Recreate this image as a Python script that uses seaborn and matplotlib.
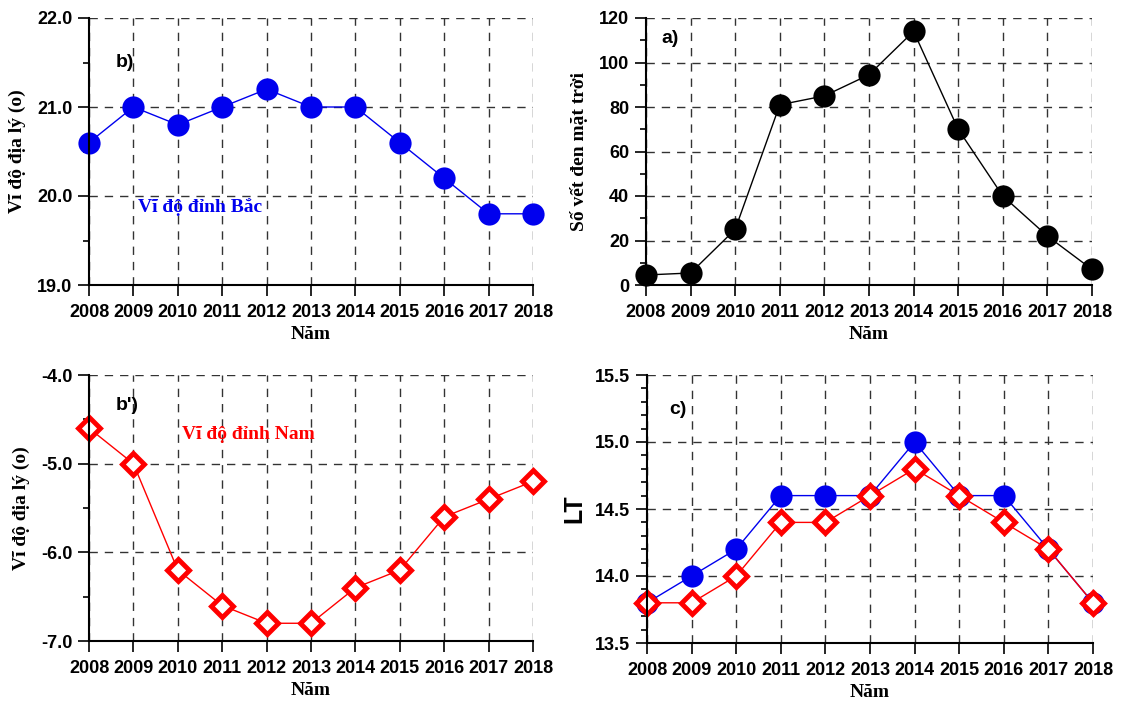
import numpy as np
import pandas as pd
import seaborn as sns
import matplotlib.pyplot as plt
from matplotlib.ticker import MultipleLocator, FormatStrFormatter

years = list(range(2008, 2019))
lat_north = [20.6, 21.0, 20.8, 21.0, 21.2, 21.0, 21.0, 20.6, 20.2, 19.8, 19.8]
sunspots = [4.5, 5.4, 25, 81, 85, 94.5, 114, 70, 40, 22, 7]
lat_south = [-4.6, -5.0, -6.2, -6.6, -6.8, -6.8, -6.4, -6.2, -5.6, -5.4, -5.2]
lt_north = [13.8, 14.0, 14.2, 14.6, 14.6, 14.6, 15.0, 14.6, 14.6, 14.2, 13.8]
lt_south = [13.8, 13.8, 14.0, 14.4, 14.4, 14.6, 14.8, 14.6, 14.4, 14.2, 13.8]

df = pd.DataFrame({'year': years, 'north': lat_north, 'spots': sunspots,
                   'south': lat_south, 'lt_n': lt_north, 'lt_s': lt_south})

sns.set_style('white')
plt.rcParams['font.family'] = ['Liberation Sans', 'DejaVu Sans']
plt.rcParams['text.color'] = 'black'

fig = plt.figure(figsize=(11.21, 7.05), dpi=100)
W, H = 1121, 705

def make_ax(l, r, t, b):
    return fig.add_axes([l / W, 1 - b / H, (r - l) / W, (b - t) / H])

ax_b = make_ax(89, 533, 18, 285)
ax_a = make_ax(646, 1092, 18, 285)
ax_bp = make_ax(89, 533, 375, 641)
ax_c = make_ax(647, 1093, 375, 643)

serif = {'family': 'Liberation Serif', 'weight': 'bold', 'size': 14}
grid_kw = dict(color='#333333', linestyle=(0, (6, 5)), linewidth=1.0)

def style(ax, ylo, yhi, major, minor, fmt, ylabel, yfont=serif, labelpad=8):
    ax.set_xlim(2008, 2018)
    ax.set_ylim(ylo, yhi)
    ax.xaxis.set_major_locator(MultipleLocator(1))
    ax.yaxis.set_major_locator(MultipleLocator(major))
    ax.yaxis.set_minor_locator(MultipleLocator(minor))
    ax.yaxis.set_major_formatter(FormatStrFormatter(fmt))
    for s in ['top', 'right']:
        ax.spines[s].set_visible(False)
    for s in ['left', 'bottom']:
        ax.spines[s].set_color('black')
        ax.spines[s].set_linewidth(1.5)
    ax.grid(True, which='major', **grid_kw)
    ax.set_axisbelow(True)
    ax.tick_params(which='major', direction='out', length=8, width=1.2,
                   color='black', labelcolor='black', labelsize=13, pad=4,
                   left=True, bottom=True)
    ax.tick_params(axis='y', which='minor', direction='out', length=4, width=1.2,
                   color='black', left=True)
    ax.tick_params(axis='x', pad=6)
    for lab in ax.get_xticklabels() + ax.get_yticklabels():
        lab.set_fontweight('bold')
    ax.set_xlabel('Năm', fontdict=serif, labelpad=3, color='black')
    ax.set_ylabel(ylabel, fontdict=yfont, labelpad=labelpad, color='black')

# b) northern latitude
sns.lineplot(data=df, x='year', y='north', ax=ax_b, color='#0000ee', linewidth=1,
             marker='o', markersize=16, markeredgewidth=0, clip_on=False)
style(ax_b, 19, 22, 1.0, 0.5, '%.1f', 'Vĩ độ địa lý (o)')
ax_b.text(2008.6, 21.5, 'b)', fontsize=14, fontweight='bold', va='center', color='black')
ax_b.text(2010.5, 19.88, 'Vĩ độ đỉnh Bắc', color='#0000ee', ha='center', va='center',
          family='Liberation Serif', fontweight='bold', fontsize=14)

# a) sunspot number
sns.lineplot(data=df, x='year', y='spots', ax=ax_a, color='black', linewidth=1,
             marker='o', markersize=16, markeredgewidth=0, clip_on=False)
style(ax_a, 0, 120, 20, 10, '%d', 'Số vết đen mặt trời')
ax_a.text(2008.35, 111, 'a)', fontsize=14, fontweight='bold', va='center', color='black')

# b') southern latitude
sns.lineplot(data=df, x='year', y='south', ax=ax_bp, color='#ff0000', linewidth=1,
             marker='D', markersize=11, markerfacecolor='white',
             markeredgecolor='#ff0000', markeredgewidth=3.5, clip_on=False)
style(ax_bp, -7, -4, 1.0, 0.5, '%.1f', 'Vĩ độ địa lý (o)')
ax_bp.text(2008.6, -4.34, "b')", fontsize=14, fontweight='bold', va='center', color='black')
ax_bp.text(2011.6, -4.67, 'Vĩ độ đỉnh Nam', color='#ff0000', ha='center', va='center',
           family='Liberation Serif', fontweight='bold', fontsize=14)

# c) local time
sns.lineplot(data=df, x='year', y='lt_n', ax=ax_c, color='#0000ee', linewidth=1,
             marker='o', markersize=16, markeredgewidth=0, clip_on=False)
sns.lineplot(data=df, x='year', y='lt_s', ax=ax_c, color='#ff0000', linewidth=1,
             marker='D', markersize=11, markerfacecolor='white',
             markeredgecolor='#ff0000', markeredgewidth=3.5, clip_on=False)
style(ax_c, 13.5, 15.5, 0.5, 0.1, '%.1f', 'LT',
      yfont={'family': 'Liberation Sans', 'weight': 'bold', 'size': 18}, labelpad=6)
ax_c.text(2008.5, 15.24, 'c)', fontsize=14, fontweight='bold', va='center', color='black')

fig.savefig('out.png', dpi=100)
